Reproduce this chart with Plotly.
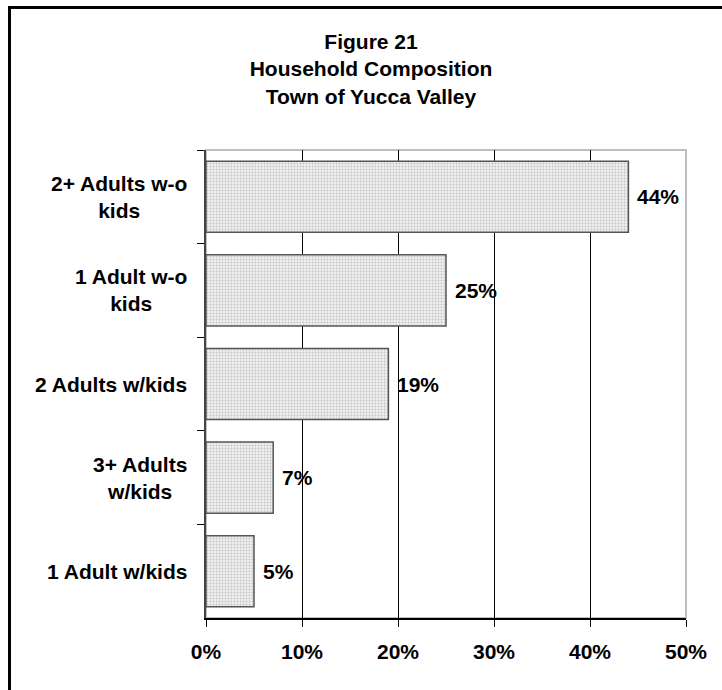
import plotly.graph_objects as go

categories = ["2+ Adults w-o kids", "1 Adult w-o kids", "2 Adults w/kids",
              "3+ Adults w/kids", "1 Adult w/kids"]
category_labels = ["2+ Adults w-o<br>kids", "1 Adult w-o<br>kids", "2 Adults w/kids",
                   "3+ Adults<br>w/kids", "1 Adult w/kids"]
values = [44, 25, 19, 7, 5]
value_labels = ["44%", "25%", "19%", "7%", "5%"]
x_ticks = [0, 10, 20, 30, 40, 50]
x_tick_labels = ["0%", "10%", "20%", "30%", "40%", "50%"]
title_lines = ["Figure 21", "Household Composition", "Town of Yucca Valley"]

FONT = "Arial, Liberation Sans, sans-serif"
W, H = 722, 690
L, R, T, B = 206, 36, 150, 72
PW, PH = W - L - R, H - T - B

def px_to_paper_x(px):
    return (px - L) / PW

def px_to_paper_y(py):
    return (H - B - py) / PH

fig = go.Figure()
fig.add_trace(go.Bar(
    x=values, y=categories, orientation="h", width=0.76,
    marker=dict(color="#e6e6e6",
                line=dict(color="#555555", width=1.5),
                pattern=dict(shape=".", bgcolor="#efefef", fgcolor="#c4c4c4",
                             size=3, solidity=0.3, fillmode="replace")),
    hoverinfo="skip",
))

annotations = []
for cat, lab in zip(categories, category_labels):
    annotations.append(dict(
        x=px_to_paper_x(189), xref="paper", y=cat, yref="y",
        text=lab, showarrow=False, xanchor="right", yanchor="middle",
        align="center", font=dict(family=FONT, size=21, color="black", weight="bold")))
for cat, v, lab in zip(categories, values, value_labels):
    annotations.append(dict(
        x=v, xref="x", y=cat, yref="y", text=lab, showarrow=False,
        xanchor="left", yanchor="middle", xshift=7,
        font=dict(family=FONT, size=21, color="black", weight="bold")))

fig.update_layout(
    width=W, height=H,
    margin=dict(l=L, r=R, t=T, b=B, pad=0),
    paper_bgcolor="white", plot_bgcolor="white",
    showlegend=False,
    title=dict(text="<br>".join(title_lines), x=371 / W, xref="container",
               xanchor="center", y=1 - 49 / H, yref="container", yanchor="top",
               font=dict(family=FONT, size=21, color="black", weight="bold")),
    xaxis=dict(range=[0, 50], tickvals=x_ticks, ticktext=x_tick_labels,
               showgrid=True, gridcolor="black", gridwidth=1,
               showline=True, linecolor="black", linewidth=2,
               ticks="outside", ticklen=7, tickcolor="black", tickwidth=1,
               ticklabelstandoff=7, zeroline=False,
               tickfont=dict(family=FONT, size=21, color="black", weight="bold")),
    yaxis=dict(categoryorder="array", categoryarray=categories, autorange="reversed",
               showticklabels=False, showgrid=False, zeroline=False,
               showline=True, linecolor="#444444", linewidth=2,
               ticks="outside", ticklen=7, tickcolor="black", tickwidth=1,
               tickson="boundaries"),
    annotations=annotations,
    shapes=[
        dict(type="rect", xref="paper", yref="paper", x0=0, x1=1, y0=0, y1=1,
             line=dict(color="#c0c0c0", width=2), layer="below"),
        dict(type="line", xref="paper", yref="paper",
             x0=px_to_paper_x(9.5), x1=px_to_paper_x(9.5),
             y0=px_to_paper_y(690), y1=px_to_paper_y(6),
             line=dict(color="black", width=3), layer="above"),
        dict(type="line", xref="paper", yref="paper",
             x0=px_to_paper_x(8), x1=px_to_paper_x(722),
             y0=px_to_paper_y(7.5), y1=px_to_paper_y(7.5),
             line=dict(color="black", width=3), layer="above"),
    ],
)

fig.write_html("out.html", config={"displayModeBar": False})
